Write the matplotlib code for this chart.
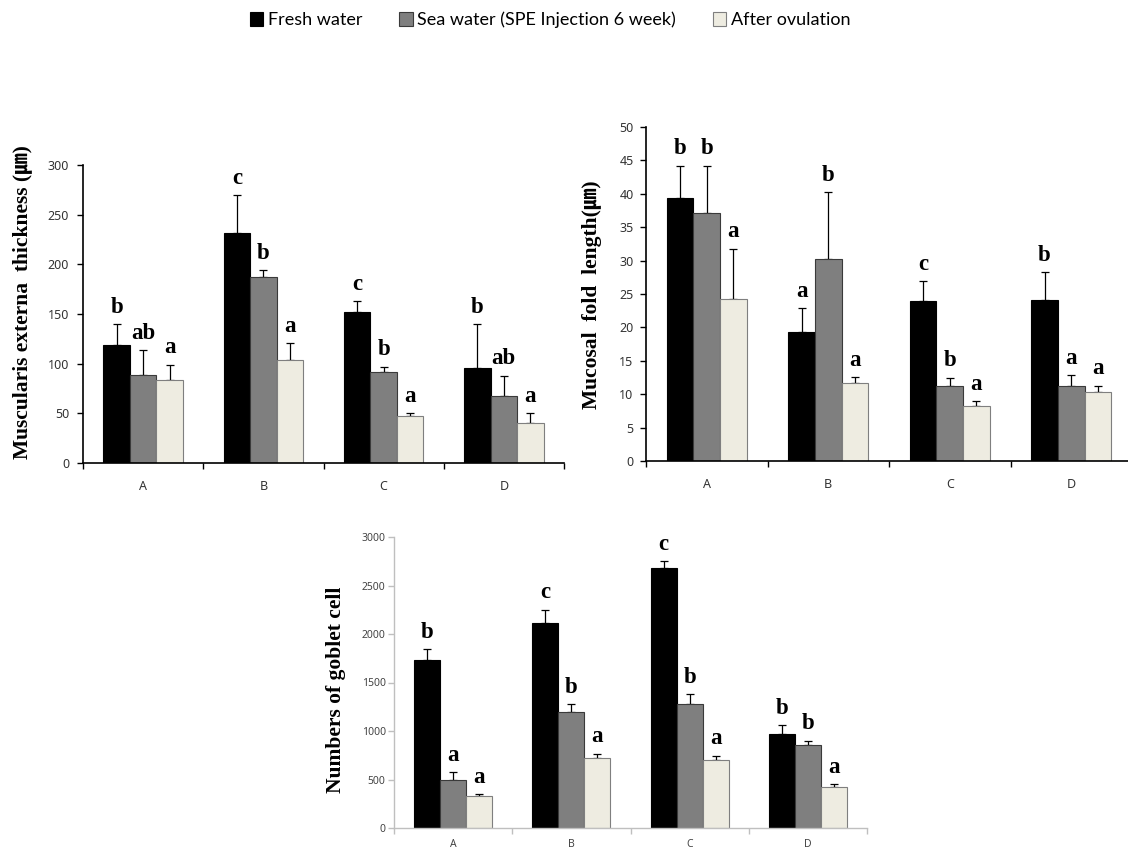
import matplotlib
matplotlib.use("Agg")
import matplotlib.pyplot as plt
import numpy as np

# ---------------- data ----------------
categories = ["A", "B", "C", "D"]
series_names = ["Fresh water", "Sea water (SPE Injection 6 week)", "After ovulation"]

musc_fresh = [119, 232, 152, 96]
musc_sea = [89, 187, 92, 67]
musc_after = [84, 104, 47, 40]
musc_fresh_err = [20.5, 38, 11, 43.5]
musc_sea_err = [25, 7, 5, 21]
musc_after_err = [15, 17, 3, 10]
musc_fresh_lbl = ["b", "c", "c", "b"]
musc_sea_lbl = ["ab", "b", "b", "ab"]
musc_after_lbl = ["a", "a", "a", "a"]

muc_fresh = [39.4, 19.3, 23.9, 24.1]
muc_sea = [37.1, 30.2, 11.3, 11.3]
muc_after = [24.3, 11.7, 8.2, 10.3]
muc_fresh_err = [4.8, 3.6, 3.0, 4.2]
muc_sea_err = [7.1, 10.1, 1.2, 1.5]
muc_after_err = [7.5, 0.9, 0.8, 1.0]
muc_fresh_lbl = ["b", "a", "c", "b"]
muc_sea_lbl = ["b", "b", "b", "a"]
muc_after_lbl = ["a", "a", "a", "a"]

gob_fresh = [1733, 2109, 2679, 970]
gob_sea = [490, 1194, 1281, 853]
gob_after = [331, 725, 697, 425]
gob_fresh_err = [114, 142, 69, 93]
gob_sea_err = [83, 83, 103, 48]
gob_after_err = [21, 41, 49, 31]
gob_fresh_lbl = ["b", "c", "c", "b"]
gob_sea_lbl = ["a", "b", "b", "b"]
gob_after_lbl = ["a", "a", "a", "a"]

# ---------------- style ----------------
colors = ["#000000", "#7F7F7F", "#EEECE1"]
edges = ["#000000", "#3A3A3A", "#7F7F7F"]
serif = ["Liberation Serif", "Noto Sans CJK KR", "DejaVu Serif"]

W, H = 1128, 852
fig = plt.figure(figsize=(W / 100, H / 100), dpi=100)


def rect(l, r, t, b):
    return [l / W, 1 - b / H, (r - l) / W, (b - t) / H]


def draw(ax, means, errs, lbls, ymax, ystep, axis_color, tick_fs, tick_color,
         ypad, xpad):
    x = np.arange(len(categories))
    width = 0.22
    handles = []
    for i in range(3):
        xi = x + (i - 1) * width
        b = ax.bar(xi, means[i], width, color=colors[i], edgecolor=edges[i],
                   linewidth=0.8, zorder=2, label=series_names[i])
        handles.append(b)
        ax.errorbar(xi, means[i], yerr=[np.zeros(len(x)), errs[i]], fmt="none",
                    ecolor="black", elinewidth=0.9, capsize=3, capthick=0.9,
                    zorder=1)
        for xx, m, e, t in zip(xi, means[i], errs[i], lbls[i]):
            ax.annotate(t, (xx, m + e), xytext=(0, 4.5), textcoords="offset points",
                        ha="center", va="bottom", fontsize=16.5, fontweight="bold",
                        family=serif)
    ax.set_xlim(-0.5, len(categories) - 0.5)
    ax.set_ylim(0, ymax)
    ax.set_yticks(np.arange(0, ymax + ystep / 2, ystep))
    ax.set_xticks(np.arange(-0.5, len(categories), 1.0))
    ax.set_xticklabels([])
    ax.set_xticks(x, minor=True)
    ax.set_xticklabels(categories, minor=True)
    ax.tick_params(axis="x", which="minor", length=0, pad=xpad,
                   labelsize=tick_fs, labelcolor=tick_color)
    ax.tick_params(axis="x", which="major", length=4, width=1, color=axis_color,
                   direction="out")
    ax.tick_params(axis="y", length=4, width=1, color=axis_color, pad=ypad,
                   labelsize=tick_fs, labelcolor=tick_color)
    for s in ["top", "right"]:
        ax.spines[s].set_visible(False)
    for s in ["left", "bottom"]:
        ax.spines[s].set_color(axis_color)
        ax.spines[s].set_linewidth(1.2 if axis_color == "black" else 1.0)
    for lab in ax.get_xticklabels(minor=True) + ax.get_yticklabels():
        lab.set_family("Noto Sans")
    return handles


ax1 = fig.add_axes(rect(83, 564, 165, 463))
h = draw(ax1, [musc_fresh, musc_sea, musc_after],
         [musc_fresh_err, musc_sea_err, musc_after_err],
         [musc_fresh_lbl, musc_sea_lbl, musc_after_lbl],
         300, 50, "black", 9, "#333333", 6, 12)

ax2 = fig.add_axes(rect(646, 1132, 127, 461))
draw(ax2, [muc_fresh, muc_sea, muc_after],
     [muc_fresh_err, muc_sea_err, muc_after_err],
     [muc_fresh_lbl, muc_sea_lbl, muc_after_lbl],
     50, 5, "black", 9, "#333333", 5, 12)

ax3 = fig.add_axes(rect(394, 867, 537, 828))
draw(ax3, [gob_fresh, gob_sea, gob_after],
     [gob_fresh_err, gob_sea_err, gob_after_err],
     [gob_fresh_lbl, gob_sea_lbl, gob_after_lbl],
     3000, 500, "#BFBFBF", 7.5, "#444444", 2, 8)

fig.text(22 / W, 1 - 302 / H, "Muscularis externa  thickness (㎛)", rotation=90,
         ha="center", va="center", fontsize=15.5, fontweight="bold", family=serif)
fig.text(592 / W, 1 - 295 / H, "Mucosal  fold  length(㎛)", rotation=90,
         ha="center", va="center", fontsize=15.5, fontweight="bold", family=serif)
fig.text(336 / W, 1 - 690 / H, "Numbers of goblet cell", rotation=90,
         ha="center", va="center", fontsize=15.5, fontweight="bold", family=serif)

fig.legend(handles=h, labels=series_names, loc="center", ncol=3,
           bbox_to_anchor=(550 / W, 1 - 20 / H), frameon=False,
           handlelength=0.75, handleheight=0.75, handletextpad=0.25,
           columnspacing=2.05, prop={"family": "Lato", "size": 13})

fig.savefig("out.png", dpi=100)
